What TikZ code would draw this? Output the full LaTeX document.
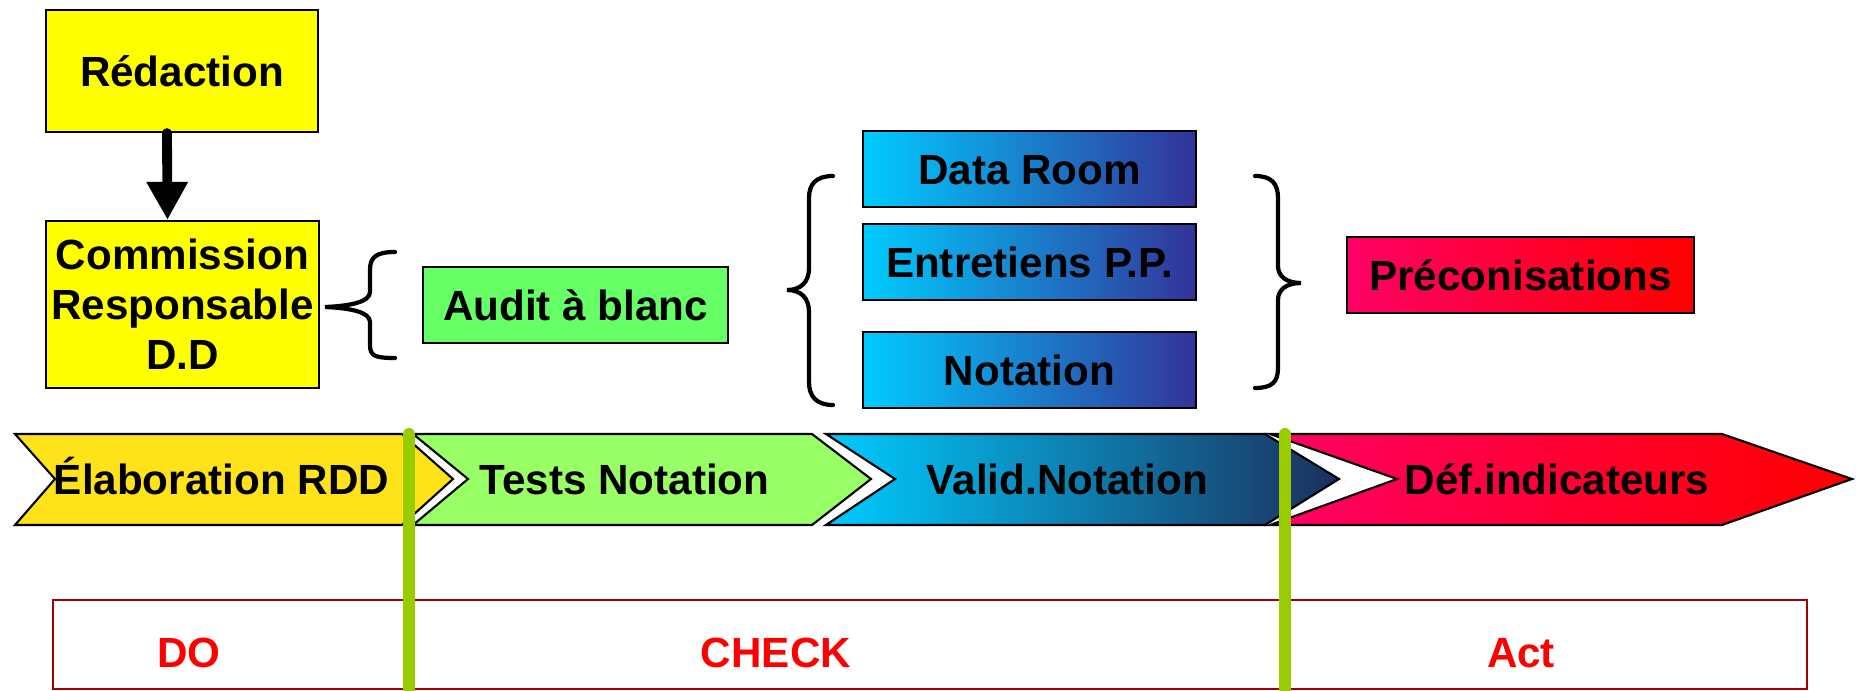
\documentclass[tikz,border=0pt]{standalone}
\usepackage{fontspec}
\setmainfont{Liberation Sans}
\usetikzlibrary{positioning,arrows.meta}
\definecolor{jaune}{HTML}{FFFF00}
\definecolor{jaunechev}{HTML}{FFE31A}
\definecolor{vertclair}{HTML}{99FF66}
\definecolor{vertaudit}{HTML}{66FF66}
\definecolor{cyanclair}{HTML}{00CCFF}
\definecolor{bleufonce}{HTML}{333399}
\definecolor{marine}{HTML}{1C2F5C}
\definecolor{rose}{HTML}{FF0066}
\definecolor{rouge}{HTML}{FF0000}
\definecolor{vertbarre}{HTML}{99CC00}
\definecolor{bordeaux}{HTML}{A00000}
\tikzset{
  boite/.style={draw=black, line width=0.6pt, inner sep=0pt, font=\fontsize{12}{14.2}\selectfont\bfseries},
  ligne/.style={text height=0.3cm, text depth=0cm},
  fleche/.style={line width=2.8pt, line cap=round, -{Triangle[width=0.39cm,length=0.38cm]}},
  accolade/.style={line width=1.2pt, line cap=round},
  chevron/.style={draw=black, line width=0.6pt},
  etiq/.style={inner sep=0pt, ligne, font=\fontsize{12}{14.2}\selectfont\bfseries},
  phase/.style={etiq, text=rouge},
  barre/.style={draw=vertbarre, line width=0.12cm, line cap=round}
}
\begin{document}
\begin{tikzpicture}[x=0.01cm,y=-0.01cm]
\useasboundingbox (0,0) rectangle (1856,691);
% boites du haut
\node[boite, ligne, fill=jaune, minimum width=2.72cm, minimum height=1.22cm] (redac) at (182,71) {Rédaction};
\node[boite, align=center, fill=jaune, minimum width=2.73cm, minimum height=1.67cm] (comm) at (182.5,304.5) {Commission\\Responsable\\D.D};
\draw[fleche] ([xshift=-0.15cm]redac.south) -- ([xshift=-0.15cm]comm.north);
\node[boite, ligne, fill=vertaudit, minimum width=3.05cm, minimum height=0.76cm] (audit) at (575.5,305) {Audit à blanc};
\node[boite, ligne, left color=cyanclair, right color=bleufonce, minimum width=3.33cm, minimum height=0.76cm] (data) at (1029.5,169) {Data Room};
\node[boite, ligne, left color=cyanclair, right color=bleufonce, minimum width=3.33cm, minimum height=0.76cm, below=0.15cm of data] (entre) {Entretiens P.P.};
\node[boite, ligne, left color=cyanclair, right color=bleufonce, minimum width=3.33cm, minimum height=0.76cm, below=0.3cm of entre] (notat) {Notation};
\node[boite, ligne, left color=rose, right color=rouge, minimum width=3.47cm, minimum height=0.76cm] (preco) at (1520.5,275) {Préconisations};
% accolades
\draw[accolade] (395,252) .. controls (375,252) and (370,258) .. (370,270) -- (370,292) .. controls (370,302) and (350,306) .. (325,307) .. controls (350,308) and (370,312) .. (370,322) -- (370,345) .. controls (370,356) and (375,358) .. (395,358);
\draw[accolade] (833,176) .. controls (816,176) and (809,184) .. (809,198) -- (809,268) .. controls (809,282) and (801,290) .. (787,290) .. controls (801,290) and (809,298) .. (809,312) -- (809,382) .. controls (809,396) and (816,405) .. (833,405);
\draw[accolade] (1255,176) .. controls (1272,176) and (1278,184) .. (1278,198) -- (1278,266) .. controls (1278,276) and (1286,283) .. (1301,283) .. controls (1286,283) and (1278,290) .. (1278,300) -- (1278,368) .. controls (1278,382) and (1272,388) .. (1255,388);
% chevrons
\draw[chevron, fill=jaunechev] (15,434) -- (402,434) -- (453,479) -- (402,525) -- (15,525) -- (55,479) -- cycle;
\draw[chevron, fill=vertclair] (413,434) -- (812,434) -- (871,479) -- (812,525) -- (413,525) -- (468,479) -- cycle;
\draw[chevron, left color=cyanclair, right color=marine] (826,434) -- (1265,434) -- (1339,479) -- (1265,525) -- (826,525) -- (895,479) -- cycle;
\draw[chevron, left color=rose, right color=rouge] (1270,434) -- (1722,434) -- (1852,479) -- (1722,525) -- (1270,525) -- (1397,479) -- cycle;
\node[etiq] (elab) at (221.5,479) {Élaboration RDD};
\node[etiq] (tests) at (624.5,479) {Tests Notation};
\node[etiq] (valid) at (1067.5,479) {Valid.Notation};
\node[etiq] (defind) at (1557,479) {Déf.indicateurs};
% cadre PDCA
\draw[draw=bordeaux, line width=0.8pt] (53,600) rectangle (1807,689);
\node[phase] (do) at (189,652) {DO};
\node[phase] (check) at (776,652) {CHECK};
\node[phase] (act) at (1521,652) {Act};
\draw[barre] (409,434) -- (409,700);
\draw[barre] (1285,434) -- (1285,700);
\end{tikzpicture}
\end{document}
